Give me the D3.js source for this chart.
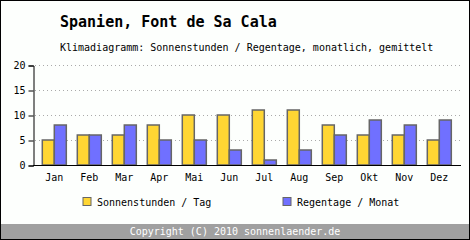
<!DOCTYPE html>
<html lang="de">
<head>
    <meta charset="UTF-8">
    <title>Klimadiagramm Font de Sa Cala</title>
    <style>
        body { margin: 0; padding: 0; background: #fff; }
        svg { display: block; }
        text { font-family: "DejaVu Sans Mono", "Liberation Mono", monospace; }
    </style>
</head>
<body>
    <svg id="chart"></svg>

    <script src="https://d3js.org/d3.v7.min.js"></script>
    <script>
        // chart data
        const months = ['Jan', 'Feb', 'Mar', 'Apr', 'Mai', 'Jun', 'Jul', 'Aug', 'Sep', 'Okt', 'Nov', 'Dez'];
        const sunHours = [5, 6, 6, 8, 10, 10, 11, 11, 8, 6, 6, 5];
        const rainDays = [8, 6, 8, 5, 5, 3, 1, 3, 6, 9, 8, 9];
        const yTicks = [0, 5, 10, 15, 20];
        const seriesNames = ['Sonnenstunden / Tag', 'Regentage / Monat'];
        const colors = ['#ffd633', '#7070ff'];

        const width = 470;
        const height = 240;

        const svg = d3.select('#chart')
            .attr('width', width)
            .attr('height', height);

        // background + frame
        svg.append('rect')
            .attr('x', 0.5).attr('y', 0.5)
            .attr('width', width - 1).attr('height', height - 1)
            .attr('fill', '#fdfffd')
            .attr('stroke', '#000');

        // footer band
        svg.append('rect')
            .attr('x', 1).attr('y', 224)
            .attr('width', width - 2).attr('height', 15)
            .attr('fill', '#a0a0a0');
        svg.append('text')
            .attr('x', 235).attr('y', 235)
            .attr('text-anchor', 'middle')
            .attr('font-size', 10)
            .attr('fill', '#fff')
            .text('Copyright (C) 2010 sonnenlaender.de');

        // titles
        svg.append('text')
            .attr('x', 60).attr('y', 27)
            .attr('font-size', 15)
            .attr('font-weight', 'bold')
            .text('Spanien, Font de Sa Cala');
        svg.append('text')
            .attr('x', 60).attr('y', 51)
            .attr('font-size', 10)
            .text('Klimadiagramm: Sonnenstunden / Regentage, monatlich, gemittelt');

        // scales
        const x = d3.scaleBand()
            .domain(months)
            .range([36.8, 456.8])
            .paddingInner(0.314)
            .paddingOuter(0.157);
        const xSub = d3.scaleBand()
            .domain([0, 1])
            .range([0, x.bandwidth()]);
        const y = d3.scaleLinear()
            .domain([0, 20])
            .range([165, 65]);

        // grid
        svg.append('g')
            .selectAll('line')
            .data(yTicks.slice(1))
            .join('line')
            .attr('x1', 35).attr('x2', 462)
            .attr('y1', d => y(d) + 0.5).attr('y2', d => y(d) + 0.5)
            .attr('stroke', '#aaa')
            .attr('stroke-dasharray', '1,3');

        // y axis
        const yAxis = svg.append('g')
            .attr('transform', 'translate(33.5,0.5)')
            .call(d3.axisLeft(y).tickValues(yTicks).tickSize(5).tickPadding(3));
        yAxis.select('.domain').attr('stroke', '#000');
        yAxis.selectAll('.tick line').attr('stroke', '#000');
        yAxis.selectAll('.tick text')
            .attr('font-family', '"DejaVu Sans Mono", monospace')
            .attr('font-size', 10)
            .attr('fill', '#000');

        // bars
        const groups = svg.append('g')
            .selectAll('g')
            .data(months)
            .join('g')
            .attr('transform', d => `translate(${x(d)},0)`);

        groups.selectAll('rect')
            .data((d, i) => [sunHours[i], rainDays[i]])
            .join('rect')
            .attr('x', (d, j) => xSub(j))
            .attr('y', d => y(d))
            .attr('width', xSub.bandwidth())
            .attr('height', d => y(0) - y(d))
            .attr('fill', (d, j) => colors[j])
            .attr('stroke', '#666')
            .attr('stroke-width', 1.5);

        // x axis line
        svg.append('line')
            .attr('x1', 33).attr('x2', 461)
            .attr('y1', 165.5).attr('y2', 165.5)
            .attr('stroke', '#000');

        // month labels
        svg.append('g')
            .selectAll('text')
            .data(months)
            .join('text')
            .attr('x', d => x(d) + x.bandwidth() / 2)
            .attr('y', 181)
            .attr('text-anchor', 'middle')
            .attr('font-size', 10)
            .text(d => d);

        // legend
        const legendX = [83, 283];
        const legend = svg.append('g')
            .selectAll('g')
            .data(seriesNames)
            .join('g')
            .attr('transform', (d, i) => `translate(${legendX[i]},197.5)`);
        legend.append('rect')
            .attr('width', 8).attr('height', 8)
            .attr('fill', (d, i) => colors[i])
            .attr('stroke', '#666');
        legend.append('text')
            .attr('x', 14).attr('y', 8)
            .attr('font-size', 10)
            .text(d => d);
    </script>
</body>
</html>
